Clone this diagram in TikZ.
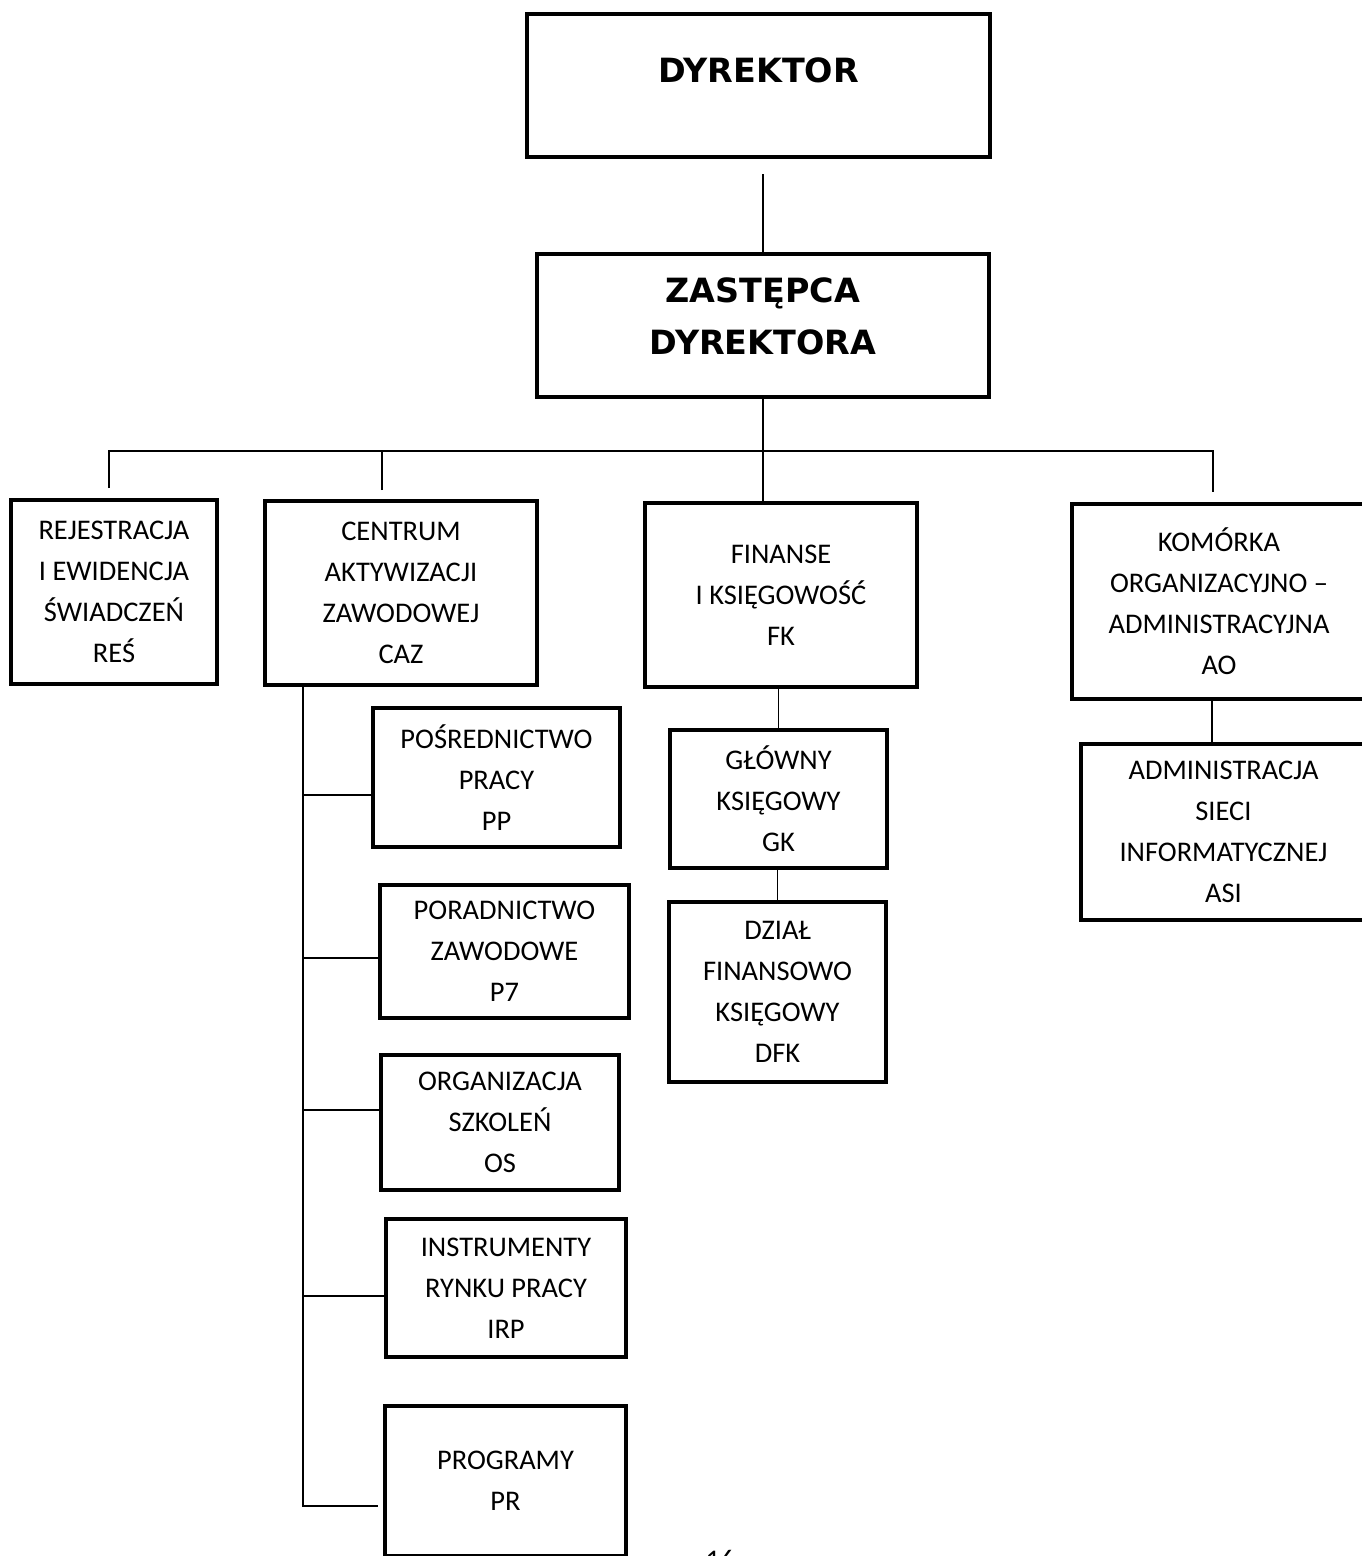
\documentclass[tikz,border=0pt]{standalone}
\usepackage{fontspec}
\setmainfont{Carlito}
\newfontfamily\headfont{DejaVu Sans}
\definecolor{orgink}{RGB}{0, 0, 0}

\begin{document}
\begin{tikzpicture}[x=0.02cm, y=-0.02cm,
    headbox/.style={draw=orgink, line width=2.3pt, rectangle, inner sep=0pt},
    headtxt/.style={orgink, align=center, font=\headfont\bfseries\fontsize{19}{29.6}\selectfont},
    unitbox/.style={draw=orgink, line width=2.3pt, rectangle, align=center, inner sep=0pt,
        font=\fontsize{16.2}{23.3}\selectfont},
    link/.style={orgink, line width=1.1pt}]
    \useasboundingbox (0,0) rectangle (1362,1556);

    % Management
    \node[headbox, minimum width=9.26cm, minimum height=2.86cm] (dyr) at (758.5,85.5) {};
    \node[headtxt] (dyrtxt) at ([yshift=0.31cm]dyr.center) {DYREKTOR};
    \node[headbox, minimum width=9.04cm, minimum height=2.86cm] (zas) at (763,325.5) {};
    \node[headtxt] (zastxt) at ([yshift=0.19cm]zas.center) {ZASTĘPCA\\DYREKTORA};

    % First level units
    \node[unitbox, minimum width=4.12cm, minimum height=3.68cm] (res) at (114,592) {REJESTRACJA\\I EWIDENCJA\\ŚWIADCZEŃ\\REŚ};
    \node[unitbox, minimum width=5.44cm, minimum height=3.68cm] (caz) at (401,593) {CENTRUM\\AKTYWIZACJI\\ZAWODOWEJ\\CAZ};
    \node[unitbox, minimum width=5.44cm, minimum height=3.68cm] (fk) at (781,595) {FINANSE\\I KSIĘGOWOŚĆ\\FK};
    \node[unitbox, minimum width=5.88cm, minimum height=3.9cm] (ao) at (1219,601.5) {KOMÓRKA\\ORGANIZACYJNO --\\ADMINISTRACYJNA\\AO};

    % CAZ units
    \node[unitbox, minimum width=4.94cm, minimum height=2.78cm] (pp) at (496.5,777.5) {POŚREDNICTWO\\PRACY\\PP};
    \node[unitbox, minimum width=4.98cm, minimum height=2.66cm] (pz) at (504.5,951.5) {PORADNICTWO\\ZAWODOWE\\P7};
    \node[unitbox, minimum width=4.76cm, minimum height=2.7cm] (os) at (500,1122.5) {ORGANIZACJA\\SZKOLEŃ\\OS};
    \node[unitbox, minimum width=4.8cm, minimum height=2.76cm] (irp) at (506,1288) {INSTRUMENTY\\RYNKU PRACY\\IRP};
    \node[unitbox, minimum width=4.82cm, minimum height=3.0cm] (pr) at (505.5,1481) {PROGRAMY\\PR};

    % FK and AO units
    \node[unitbox, minimum width=4.34cm, minimum height=2.76cm] (gk) at (778.5,799) {GŁÓWNY\\KSIĘGOWY\\GK};
    \node[unitbox, minimum width=4.34cm, minimum height=3.6cm] (dfk) at (777.5,992) {DZIAŁ\\FINANSOWO\\KSIĘGOWY\\DFK};
    \node[unitbox, minimum width=5.7cm, minimum height=3.52cm] (asi) at (1223.5,832) {ADMINISTRACJA\\SIECI\\INFORMATYCZNEJ\\ASI};

    % Page number
    \node[orgink, font=\fontsize{16.2}{20}\selectfont] (pagenum) at (720,1560) {16};

    % Connectors
    \draw[link] (zas.north) -- ([yshift=-0.3cm]zas.north |- dyr.south);
    \coordinate (bus) at ([yshift=-1.04cm]zas.south);
    \draw[link] ([xshift=-0.1cm,yshift=0.2cm]res.north) |- (bus) -| ([xshift=-0.12cm,yshift=0.2cm]ao.north);
    \draw[link] ([xshift=-0.38cm,yshift=0.18cm]caz.north) |- (bus);
    \draw[link] (zas.south) -- (zas.south |- fk.north);
    \coordinate (trunk) at ([xshift=0.8cm]caz.south west);
    \draw[link] (trunk) |- ([xshift=-0.1cm,yshift=-0.5cm]pr.west);
    \foreach \unit/\dy in {pp/-0.35, pz/-0.13, os/0.25, irp/-0.16}
        \draw[link] ([yshift=\dy cm]\unit.west) -| (trunk);
    \draw[link] (gk.north) -- (gk.north |- fk.south);
    \draw[link] (dfk.north) -- (dfk.north |- gk.south);
    \draw[link] ([xshift=-0.14cm]ao.south) -- ([xshift=-0.14cm]ao.south |- asi.north);
\end{tikzpicture}
\end{document}
